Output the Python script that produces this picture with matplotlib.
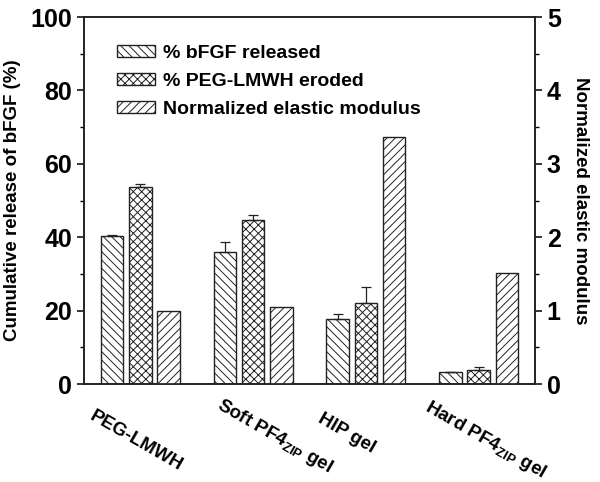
import numpy as np
import matplotlib
matplotlib.use('Agg')
import matplotlib.pyplot as plt
from matplotlib.ticker import MultipleLocator
import matplotlib.transforms as mtransforms

plt.rcParams['font.family'] = ['Liberation Sans', 'DejaVu Sans']
plt.rcParams['font.weight'] = 'bold'
plt.rcParams['mathtext.fontset'] = 'custom'
plt.rcParams['mathtext.it'] = 'Liberation Sans:bold'
plt.rcParams['mathtext.rm'] = 'Liberation Sans:bold'
plt.rcParams['mathtext.bf'] = 'Liberation Sans:bold'
plt.rcParams['hatch.linewidth'] = 0.7
plt.rcParams['hatch.color'] = '#333333'

# --- data ---
groups = ['PEG-LMWH', 'Soft PF4$_{ZIP}$ gel', 'HIP gel', 'Hard PF4$_{ZIP}$ gel']
bfgf_released = [40.2, 36.0, 17.8, 3.4]
bfgf_err = [0.3, 2.8, 1.2, 0.0]
peg_eroded = [53.6, 44.6, 22.2, 3.9]
peg_err = [0.8, 1.5, 4.2, 0.6]
elastic_modulus = [1.0, 1.05, 3.37, 1.51]

# label anchor (x in data units, y in axes fraction)
label_x = [0.60, 1.74, 2.62, 3.58]
label_y = [-0.065, -0.030, -0.071, -0.035]

x = np.arange(1, len(groups) + 1)
w = 0.2
off = 0.25

fig = plt.figure(figsize=(6, 4.82), dpi=100)
ax = fig.add_axes([0.14, 0.2033, 0.7517, 0.7614])
ax2 = ax.twinx()

err_kw = dict(ecolor='#222222', elinewidth=0.9, capsize=3.5, capthick=0.9)
zero = [0] * len(groups)
b1 = ax.bar(x - off, bfgf_released, w, color='white', edgecolor='#222222', linewidth=1,
            hatch='\\\\\\\\', yerr=[zero, bfgf_err], error_kw=err_kw, label='% bFGF released')
b2 = ax.bar(x, peg_eroded, w, color='white', edgecolor='#222222', linewidth=1,
            hatch='xxxx', yerr=[zero, peg_err], error_kw=err_kw, label='% PEG-LMWH eroded')
b3 = ax2.bar(x + off, elastic_modulus, w, color='white', edgecolor='#222222', linewidth=1,
             hatch='////', label='Normalized elastic modulus')

ax.set_xlim(0.5, 4.5)
ax.set_ylim(0, 100)
ax2.set_ylim(0, 5)
ax.yaxis.set_major_locator(MultipleLocator(20))
ax.yaxis.set_minor_locator(MultipleLocator(10))
ax2.yaxis.set_major_locator(MultipleLocator(1))
ax2.yaxis.set_minor_locator(MultipleLocator(0.5))
ax.set_xticks([])

for a in (ax, ax2):
    for s in a.spines.values():
        s.set_linewidth(1.2)
        s.set_color('#222222')
    a.tick_params(axis='y', which='major', length=5, width=1.1, labelsize=18, direction='out')
    a.tick_params(axis='y', which='minor', length=3, width=1.0, direction='out')

ax.set_ylabel('Cumulative release of bFGF (%)', fontsize=13.5, fontweight='bold', labelpad=7)
ax2.set_ylabel('Normalized elastic modulus', fontsize=13.5, fontweight='bold', rotation=-90, labelpad=20)

trans = mtransforms.blended_transform_factory(ax.transData, ax.transAxes)
for lx, ly, g in zip(label_x, label_y, groups):
    ax.text(lx, ly, g, transform=trans, rotation=-30, rotation_mode='anchor',
            ha='left', va='top', fontsize=13.5, fontweight='bold', clip_on=False)

ax.legend(handles=[b1, b2, b3], loc='upper left', bbox_to_anchor=(0.073, 0.925),
          frameon=False, borderpad=0, borderaxespad=0, fontsize=14,
          handlelength=1.95, handleheight=0.6, labelspacing=0.58, handletextpad=0.4)

fig.savefig('out.png', dpi=100)
